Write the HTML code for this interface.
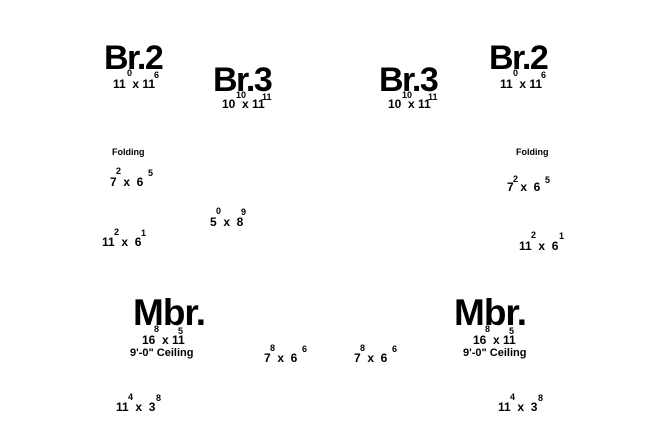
<!DOCTYPE html>
<html><head><meta charset="utf-8"><style>
body{margin:0;width:660px;height:430px;background:#fff;position:relative;overflow:hidden;font-family:"Liberation Sans",Arial,sans-serif;font-weight:bold;color:#000}
div{position:absolute;line-height:1;white-space:pre}
.b{font-size:34px;letter-spacing:-1.5px}
.m{font-size:37px;letter-spacing:-1px}
.d{font-size:12px}
.s{font-size:9px}
.f{font-size:9px}
</style></head><body>
<div class="b" style="left:104px;top:41px">Br.2</div>
<div class="d" style="left:113px;top:78px">11  x 11</div>
<div class="s" style="left:127px;top:69px">0</div>
<div class="s" style="left:154px;top:71px">6</div>

<div class="b" style="left:213px;top:63px">Br.3</div>
<div class="d" style="left:222px;top:98px">10  x 11</div>
<div class="s" style="left:236px;top:91px">10</div>
<div class="s" style="left:262px;top:93px">11</div>

<div class="b" style="left:379px;top:63px">Br.3</div>
<div class="d" style="left:388px;top:98px">10  x 11</div>
<div class="s" style="left:402px;top:91px">10</div>
<div class="s" style="left:428px;top:93px">11</div>

<div class="b" style="left:489px;top:41px">Br.2</div>
<div class="d" style="left:500px;top:78px">11  x 11</div>
<div class="s" style="left:513px;top:69px">0</div>
<div class="s" style="left:541px;top:71px">6</div>

<div class="f" style="left:112px;top:148px">Folding</div>
<div class="f" style="left:516px;top:148px">Folding</div>

<div class="d" style="left:110px;top:176px">7  x  6</div>
<div class="s" style="left:116px;top:167px">2</div>
<div class="s" style="left:148px;top:169px">5</div>

<div class="d" style="left:507px;top:181px">7  x  6</div>
<div class="s" style="left:513px;top:175px">2</div>
<div class="s" style="left:545px;top:176px">5</div>

<div class="d" style="left:210px;top:216px">5  x  8</div>
<div class="s" style="left:216px;top:207px">0</div>
<div class="s" style="left:241px;top:208px">9</div>

<div class="d" style="left:102px;top:236px">11  x  6</div>
<div class="s" style="left:114px;top:228px">2</div>
<div class="s" style="left:141px;top:229px">1</div>

<div class="d" style="left:519px;top:240px">11  x  6</div>
<div class="s" style="left:531px;top:231px">2</div>
<div class="s" style="left:559px;top:232px">1</div>

<div class="m" style="left:133px;top:294px">Mbr.</div>
<div class="d" style="left:142px;top:334px">16  x 11</div>
<div class="s" style="left:154px;top:325px">8</div>
<div class="s" style="left:178px;top:327px">5</div>
<div class="d" style="left:130px;top:348px;font-size:11px">9'-0" Ceiling</div>

<div class="m" style="left:454px;top:294px">Mbr.</div>
<div class="d" style="left:473px;top:334px">16  x 11</div>
<div class="s" style="left:485px;top:325px">8</div>
<div class="s" style="left:509px;top:327px">5</div>
<div class="d" style="left:463px;top:348px;font-size:11px">9'-0" Ceiling</div>

<div class="d" style="left:264px;top:352px">7  x  6</div>
<div class="s" style="left:270px;top:344px">8</div>
<div class="s" style="left:302px;top:345px">6</div>

<div class="d" style="left:354px;top:352px">7  x  6</div>
<div class="s" style="left:360px;top:344px">8</div>
<div class="s" style="left:392px;top:345px">6</div>

<div class="d" style="left:116px;top:401px">11  x  3</div>
<div class="s" style="left:128px;top:393px">4</div>
<div class="s" style="left:156px;top:394px">8</div>

<div class="d" style="left:498px;top:401px">11  x  3</div>
<div class="s" style="left:510px;top:393px">4</div>
<div class="s" style="left:538px;top:394px">8</div>
</body></html>
